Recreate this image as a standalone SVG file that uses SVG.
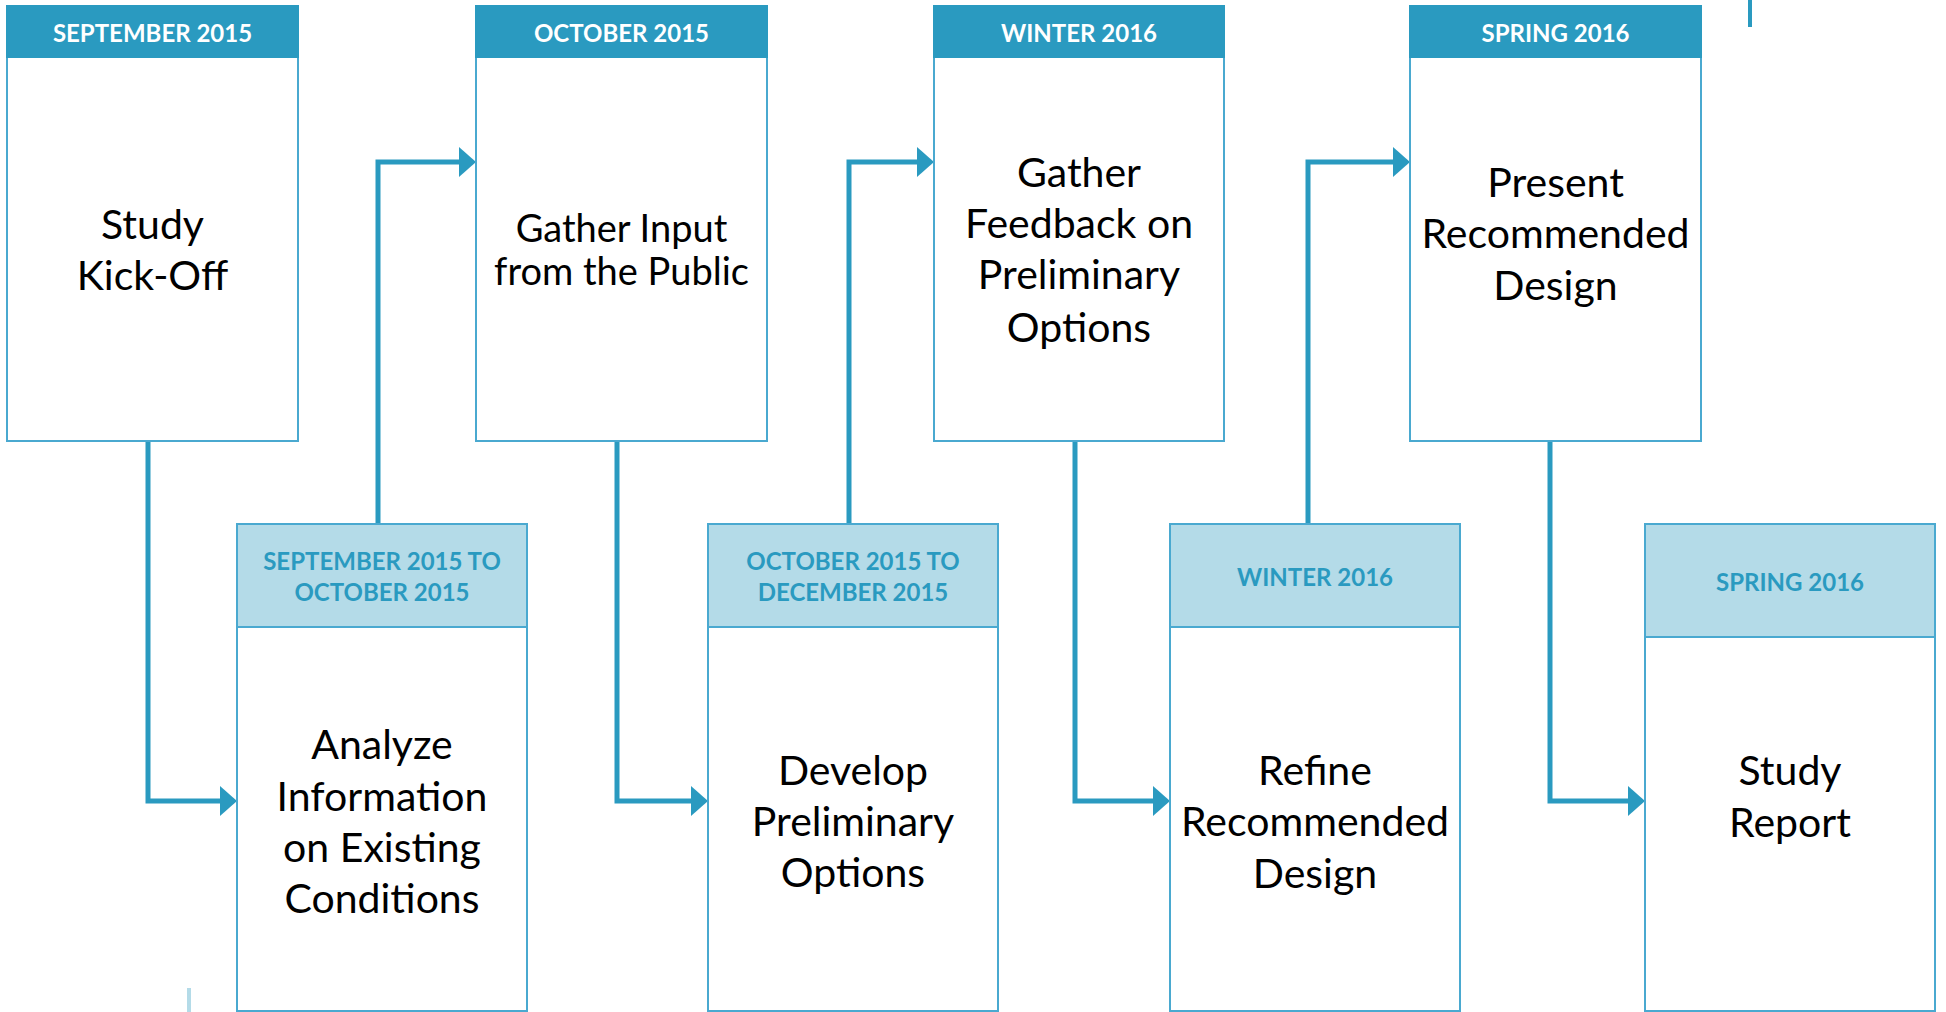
<svg xmlns="http://www.w3.org/2000/svg" width="1946" height="1012" viewBox="0 0 1946 1012">
<style>
.box{fill:#ffffff;stroke:#4aa9d0;stroke-width:2}
.hd{fill:#2a9ac0;stroke:#2a9ac0;stroke-width:2}
.hl{fill:#b4dbe8;stroke:#4aa9d0;stroke-width:2}
.ht{font-family:Lato,"Liberation Sans",sans-serif;font-weight:bold;font-size:24px;fill:#ffffff;text-anchor:middle}
.hlt{font-family:Lato,"Liberation Sans",sans-serif;font-weight:bold;font-size:24px;fill:#2a9ac0;text-anchor:middle}
.mt{font-family:Lato,"Liberation Sans",sans-serif;font-size:41px;fill:#000000;text-anchor:middle}
.mt2{font-family:Lato,"Liberation Sans",sans-serif;font-size:38px;fill:#000000;text-anchor:middle}
.cn{fill:none;stroke:#2a9ac0;stroke-width:5;marker-end:url(#ah)}
</style>
<defs>
<marker id="ah" markerUnits="userSpaceOnUse" markerWidth="18" markerHeight="32" refX="7" refY="16" orient="auto">
<path d="M0,1 L17,16 L0,31 Z" fill="#2a9ac0"/>
</marker>
</defs>
<rect width="1946" height="1012" fill="#ffffff"/>
<g id="connectors">
<path class="cn" d="M148,441 V801 H227"/>
<path class="cn" d="M378,524 V162 H466"/>
<path class="cn" d="M617,441 V801 H698"/>
<path class="cn" d="M849,524 V162 H924"/>
<path class="cn" d="M1075,441 V801 H1160"/>
<path class="cn" d="M1308,524 V162 H1400"/>
<path class="cn" d="M1550,441 V801 H1635"/>
<line x1="1750" y1="0" x2="1750" y2="27" stroke="#2a9ac0" stroke-width="4"/>
<line x1="189" y1="988" x2="189" y2="1012" stroke="#b4dbe8" stroke-width="4"/>
</g>
<g id="n1">
<rect class="box" x="7" y="6" width="291" height="435"/>
<rect class="hd" x="7" y="6" width="291" height="51"/>
<text class="ht" x="152.5" y="42">SEPTEMBER 2015</text>
<text class="mt" x="152.5" y="239">Study</text>
<text class="mt" x="152.5" y="290">Kick-Off</text>
</g>
<g id="n2">
<rect class="box" x="476" y="6" width="291" height="435"/>
<rect class="hd" x="476" y="6" width="291" height="51"/>
<text class="ht" x="621.5" y="42">OCTOBER 2015</text>
<text class="mt2" x="621.5" y="242">Gather Input</text>
<text class="mt2" x="621.5" y="285">from the Public</text>
</g>
<g id="n3">
<rect class="box" x="934" y="6" width="290" height="435"/>
<rect class="hd" x="934" y="6" width="290" height="51"/>
<text class="ht" x="1079" y="42">WINTER 2016</text>
<text class="mt" x="1079" y="187">Gather</text>
<text class="mt" x="1079" y="238">Feedback on</text>
<text class="mt" x="1079" y="289">Preliminary</text>
<text class="mt" x="1079" y="342">Options</text>
</g>
<g id="n4">
<rect class="box" x="1410" y="6" width="291" height="435"/>
<rect class="hd" x="1410" y="6" width="291" height="51"/>
<text class="ht" x="1555.5" y="42">SPRING 2016</text>
<text class="mt" x="1555.5" y="197">Present</text>
<text class="mt" x="1555.5" y="248">Recommended</text>
<text class="mt" x="1555.5" y="300">Design</text>
</g>
<g id="n5">
<rect class="box" x="237" y="524" width="290" height="487"/>
<rect class="hl" x="237" y="524" width="290" height="103"/>
<text class="hlt" x="382" y="570">SEPTEMBER 2015 TO</text>
<text class="hlt" x="382" y="601">OCTOBER 2015</text>
<text class="mt" x="382" y="759">Analyze</text>
<text class="mt" x="382" y="811">Information</text>
<text class="mt" x="382" y="862">on Existing</text>
<text class="mt" x="382" y="913">Conditions</text>
</g>
<g id="n6">
<rect class="box" x="708" y="524" width="290" height="487"/>
<rect class="hl" x="708" y="524" width="290" height="103"/>
<text class="hlt" x="853" y="570">OCTOBER 2015 TO</text>
<text class="hlt" x="853" y="601">DECEMBER 2015</text>
<text class="mt" x="853" y="785">Develop</text>
<text class="mt" x="853" y="836">Preliminary</text>
<text class="mt" x="853" y="887">Options</text>
</g>
<g id="n7">
<rect class="box" x="1170" y="524" width="290" height="487"/>
<rect class="hl" x="1170" y="524" width="290" height="103"/>
<text class="hlt" x="1315" y="586">WINTER 2016</text>
<text class="mt" x="1315" y="785">Refine</text>
<text class="mt" x="1315" y="836">Recommended</text>
<text class="mt" x="1315" y="888">Design</text>
</g>
<g id="n8">
<rect class="box" x="1645" y="524" width="290" height="487"/>
<rect class="hl" x="1645" y="524" width="290" height="113"/>
<text class="hlt" x="1790" y="591">SPRING 2016</text>
<text class="mt" x="1790" y="785">Study</text>
<text class="mt" x="1790" y="837">Report</text>
</g>
</svg>
